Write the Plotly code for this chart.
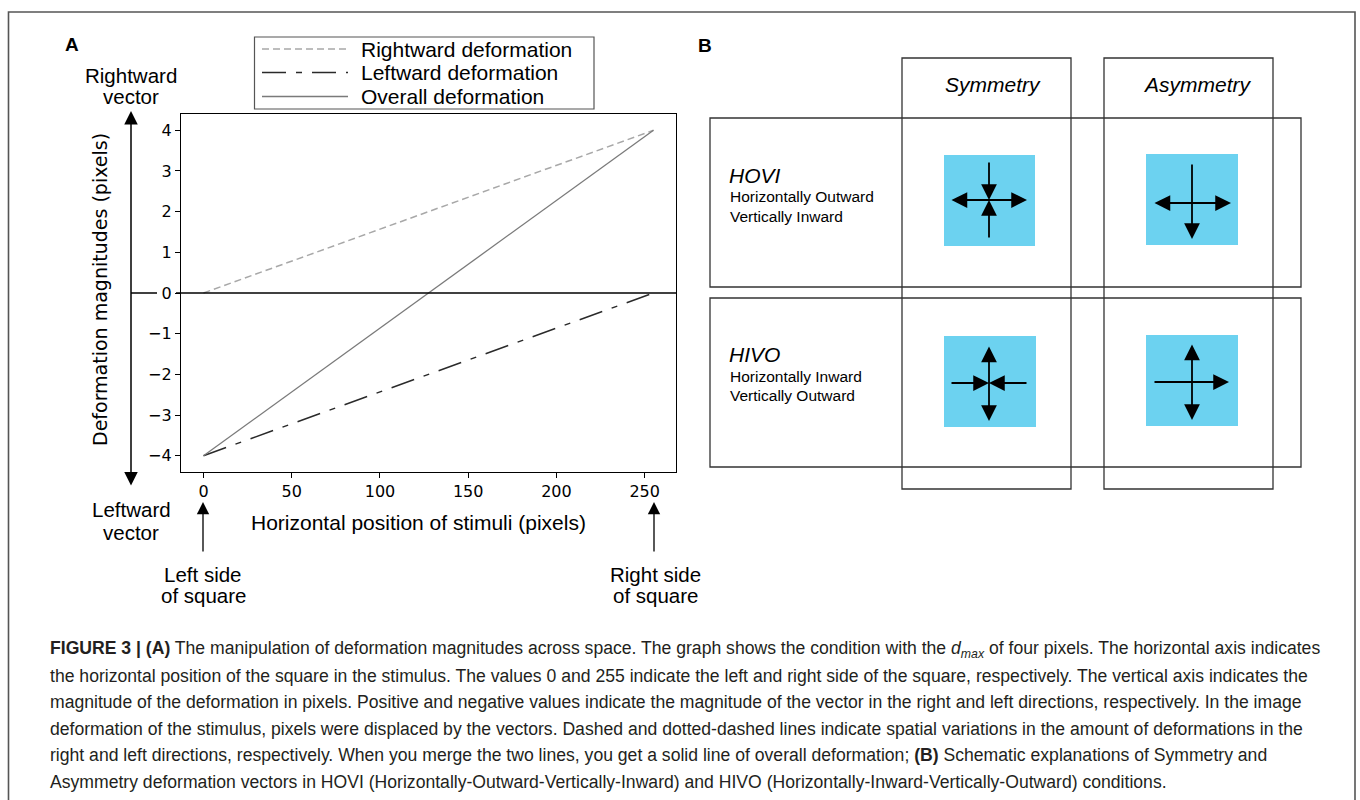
import plotly.graph_objects as go

W, H = 1360, 800

# ---------------- data ----------------
x_position = [0, 255]
rightward_deformation = [0, 4]
leftward_deformation = [-4, 0]
overall_deformation = [-4, 4]

x_ticks = [0, 50, 100, 150, 200, 250]
y_ticks = [-4, -3, -2, -1, 0, 1, 2, 3, 4]
y_ticklabels = ["\u22124", "\u22123", "\u22122", "\u22121", "0", "1", "2", "3", "4"]

series_names = ["Rightward deformation", "Leftward deformation", "Overall deformation"]
column_labels = ["Symmetry", "Asymmetry"]
row_labels = ["HOVI", "HIVO"]
row_desc = [["Horizontally Outward", "Vertically Inward"],
            ["Horizontally Inward", "Vertically Outward"]]

caption_lines = [
    "<b>FIGURE 3 | (A)</b> The manipulation of deformation magnitudes across space. The graph shows the condition with the <i>d<sub>max</sub></i> of four pixels. The horizontal axis indicates",
    "the horizontal position of the square in the stimulus. The values 0 and 255 indicate the left and right side of the square, respectively. The vertical axis indicates the",
    "magnitude of the deformation in pixels. Positive and negative values indicate the magnitude of the vector in the right and left directions, respectively. In the image",
    "deformation of the stimulus, pixels were displaced by the vectors. Dashed and dotted-dashed lines indicate spatial variations in the amount of deformations in the",
    "right and left directions, respectively. When you merge the two lines, you get a solid line of overall deformation; <b>(B)</b> Schematic explanations of Symmetry and",
    "Asymmetry deformation vectors in HOVI (Horizontally-Outward-Vertically-Inward) and HIVO (Horizontally-Inward-Vertically-Outward) conditions.",
]

# ---------------- styles ----------------
styles = [
    dict(color="#a8a8a8", width=1.5, dash="7px,4px"),
    dict(color="#2a2a2a", width=1.5, dash="24px,10px,6px,10px"),
    dict(color="#7a7a7a", width=1.3, dash="solid"),
]
series = [rightward_deformation, leftward_deformation, overall_deformation]

def px(x):
    return x / W

def py(y):
    return 1 - y / H

ARIAL = "Liberation Sans, Arial, sans-serif"
DEJAVU = "DejaVu Sans, sans-serif"

fig = go.Figure()
for name, vals, st in zip(series_names, series, styles):
    fig.add_trace(go.Scatter(x=x_position, y=vals, mode="lines", name=name,
                             line=st, showlegend=False, hoverinfo="skip"))

# plot area in pixels
PL, PR, PT, PB = 181, 676, 114, 472

fig.update_layout(
    width=W, height=H,
    margin=dict(l=0, r=0, t=0, b=0),
    paper_bgcolor="white", plot_bgcolor="white",
    xaxis=dict(domain=[px(PL), px(PR)], range=[-12.75, 267.75],
               tickvals=x_ticks, ticks="outside", ticklen=5, tickwidth=1.2,
               tickcolor="black", showline=True, mirror=True, linecolor="black",
               linewidth=1.2, showgrid=False, zeroline=False,
               tickfont=dict(family=DEJAVU, size=16, color="black")),
    yaxis=dict(domain=[py(PB), py(PT)], range=[-4.4, 4.4],
               tickvals=y_ticks, ticktext=y_ticklabels, ticks="outside", ticklen=5,
               tickwidth=1.2, tickcolor="black", showline=True, mirror=True,
               linecolor="black", linewidth=1.2, showgrid=False, zeroline=False,
               tickfont=dict(family=DEJAVU, size=16, color="black")),
)

shapes = []
ann = []

# outer frame
shapes.append(dict(type="rect", xref="paper", yref="paper",
                   x0=px(8.5), x1=px(1355), y0=py(812), y1=py(12),
                   line=dict(color="#555555", width=1.6)))

# zero line extending to left arrow (broken around the "0" label)
shapes.append(dict(type="line", xref="paper", yref="y", x0=px(131), x1=px(157),
                   y0=0, y1=0, line=dict(color="black", width=1.5), layer="above"))
shapes.append(dict(type="line", xref="paper", yref="y", x0=px(176), x1=px(PR),
                   y0=0, y1=0, line=dict(color="black", width=1.5), layer="above"))

def arrow(x_tip, y_tip, x_tail, y_tail, both=False, width=1.5, size=1.6, head=2):
    ann.append(dict(xref="paper", yref="paper", x=px(x_tip), y=py(y_tip),
                    ax=x_tail - x_tip, ay=y_tail - y_tip, axref="pixel", ayref="pixel",
                    showarrow=True, arrowhead=head, arrowsize=size, arrowwidth=width,
                    arrowcolor="black", arrowside="end+start" if both else "end",
                    startarrowhead=head, startarrowsize=size, text="", standoff=0,
                    startstandoff=0))

# vertical double arrow
arrow(131, 111, 131, 487, both=True, width=1.5, size=1.8)
# up arrows at the sides of the square
arrow(203, 502, 203, 553, width=1.3, size=1.9)
arrow(654, 502, 654, 553, width=1.3, size=1.9)

def text(x, y, s, size=21, family=ARIAL, xanchor="center", color="black", angle=0):
    ann.append(dict(xref="paper", yref="paper", x=px(x), y=py(y), text=s,
                    showarrow=False, xanchor=xanchor, yanchor="middle",
                    textangle=angle,
                    font=dict(family=family, size=size, color=color)))

text(72, 44, "<b>A</b>", size=19)
text(705, 45, "<b>B</b>", size=19)
text(131, 75, "Rightward", size=20.5)
text(131, 97, "vector", size=20.5)
text(131, 510, "Leftward", size=20.5)
text(131, 532, "vector", size=20.5)
text(418, 522, "Horizontal position of stimuli (pixels)", size=21)
text(203, 574, "Left side", size=20.5)
text(203, 595, "of square", size=20.5)
text(655, 574, "Right side", size=20.5)
text(655, 595, "of square", size=20.5)
text(100, 290, "Deformation magnitudes (pixels)", size=19, family=DEJAVU, angle=-90)

# legend
shapes.append(dict(type="rect", xref="paper", yref="paper",
                   x0=px(254.5), x1=px(594), y0=py(109), y1=py(37),
                   line=dict(color="#555555", width=1.2), fillcolor="white"))
leg_y = [49, 72.5, 96.5]
for name, st, yy in zip(series_names, styles, leg_y):
    shapes.append(dict(type="line", xref="paper", yref="paper",
                       x0=px(262), x1=px(348), y0=py(yy), y1=py(yy),
                       line=st))
    text(359, yy, name, size=21, xanchor="left")

# ---------------- panel B ----------------
box_line = dict(color="#333333", width=1.3)
for x0, x1 in [(902, 1071), (1104, 1273)]:
    shapes.append(dict(type="rect", xref="paper", yref="paper",
                       x0=px(x0), x1=px(x1), y0=py(489), y1=py(58), line=box_line))
for y0, y1 in [(118, 287), (298, 467)]:
    shapes.append(dict(type="rect", xref="paper", yref="paper",
                       x0=px(710), x1=px(1301), y0=py(y1), y1=py(y0), line=box_line))

BLUE = "#6cd2f0"
squares = [(944, 1035, 155, 246), (1146, 1238, 154, 245),
           (944, 1036, 336, 427), (1146, 1238, 335, 426)]
for x0, x1, y0, y1 in squares:
    shapes.append(dict(type="rect", xref="paper", yref="paper",
                       x0=px(x0), x1=px(x1), y0=py(y1), y1=py(y0),
                       line=dict(width=0), fillcolor=BLUE))

AW, AS = 1.8, 1.75
# Symmetry HOVI: horizontal outward, vertical inward
arrow(1027, 200, 950, 200, both=True, width=AW, size=AS)
arrow(989, 200, 989, 161, width=AW, size=AS)
arrow(989, 200, 989, 239, width=AW, size=AS)
# Asymmetry HOVI: horizontal outward both, vertical down only
arrow(1231, 203, 1153, 203, both=True, width=AW, size=AS)
arrow(1192, 239, 1192, 163, width=AW, size=AS)
# Symmetry HIVO: vertical outward, horizontal inward
arrow(989, 421, 989, 345, both=True, width=AW, size=AS)
arrow(989, 383, 950, 383, width=AW, size=AS)
arrow(989, 383, 1028, 383, width=AW, size=AS)
# Asymmetry HIVO: vertical outward both, horizontal right only
arrow(1192, 420, 1192, 343, both=True, width=AW, size=AS)
arrow(1229, 382, 1153, 382, width=AW, size=AS)

text(993, 85, "<i>Symmetry</i>", size=21)
text(1197, 85, "<i>Asymmetry</i>", size=21)
for lab, desc, yy in zip(row_labels, row_desc, [175, 354]):
    text(727, yy, "<i>" + lab + "</i>", size=21, xanchor="left")
    text(728, yy + 22, desc[0], size=15.5, xanchor="left")
    text(728, yy + 41, desc[1], size=15.5, xanchor="left")

# caption
for i, line in enumerate(caption_lines):
    text(48, 649 + i * 26.6, line, size=17.6, xanchor="left", color="#231f20")

fig.update_layout(shapes=shapes, annotations=ann)
fig.write_html("out.html", config={"displayModeBar": False},
               post_script="document.body.style.margin='0';document.body.style.overflow='hidden';")
